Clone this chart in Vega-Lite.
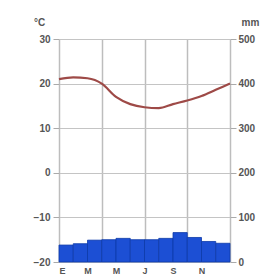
{
  "$schema": "https://vega.github.io/schema/vega-lite/v6.json",
  "width": 171,
  "height": 223,
  "autosize": "none",
  "padding": {"left": 59, "top": 39, "right": 31, "bottom": 15},
  "config": {
    "view": {"stroke": null},
    "axis": {"labelFont": "Liberation Sans", "labelFontSize": 10, "labelFontWeight": "bold", "labelColor": "#555", "titleFont": "Liberation Sans", "titleFontSize": 10, "titleFontWeight": "bold", "titleColor": "#555", "tickColor": "#aaa", "gridColor": "#c4c4c4", "domain": false}
  },
  "datasets": {
    "precip": [
      {"mes": "E", "inicio": 0, "fin": 1, "mm": 38},
      {"mes": "F", "inicio": 1, "fin": 2, "mm": 41},
      {"mes": "M", "inicio": 2, "fin": 3, "mm": 49},
      {"mes": "A", "inicio": 3, "fin": 4, "mm": 50},
      {"mes": "M", "inicio": 4, "fin": 5, "mm": 53},
      {"mes": "J", "inicio": 5, "fin": 6, "mm": 50},
      {"mes": "J", "inicio": 6, "fin": 7, "mm": 50},
      {"mes": "A", "inicio": 7, "fin": 8, "mm": 53},
      {"mes": "S", "inicio": 8, "fin": 9, "mm": 66},
      {"mes": "O", "inicio": 9, "fin": 10, "mm": 55},
      {"mes": "N", "inicio": 10, "fin": 11, "mm": 46},
      {"mes": "D", "inicio": 11, "fin": 12, "mm": 42}
    ],
    "temp": [
      {"pos": 0, "c": 21.0},
      {"pos": 1, "c": 21.4},
      {"pos": 2, "c": 21.2},
      {"pos": 3, "c": 20.0},
      {"pos": 4, "c": 17.0},
      {"pos": 5, "c": 15.4},
      {"pos": 6, "c": 14.7},
      {"pos": 7, "c": 14.5},
      {"pos": 8, "c": 15.4},
      {"pos": 9, "c": 16.2},
      {"pos": 10, "c": 17.2},
      {"pos": 11, "c": 18.6},
      {"pos": 12, "c": 20.0}
    ]
  },
  "layer": [
    {
      "data": {"name": "precip"},
      "mark": {"type": "bar", "color": "#1c4fd4", "stroke": "#0d3aa8", "strokeWidth": 0.8},
      "encoding": {
        "x": {"field": "inicio", "type": "quantitative", "scale": {"domain": [0, 12], "nice": false, "zero": false},
              "axis": {"orient": "bottom", "values": [0, 3, 6, 9, 12], "grid": true, "gridWidth": 1.5, "gridColor": "#bdbdbd", "labels": false, "ticks": false, "title": null}},
        "x2": {"field": "fin"},
        "y": {"field": "mm", "type": "quantitative", "scale": {"domain": [0, 500], "nice": false},
              "axis": {"orient": "right", "values": [0, 100, 200, 300, 400, 500], "grid": false, "tickSize": 6, "labelPadding": 2, "title": "mm", "titleAngle": 0, "titleX": 20, "titleY": -17, "titleAlign": "center", "titleBaseline": "middle"}},
        "y2": {"datum": 0}
      }
    },
    {
      "data": {"name": "temp"},
      "mark": {"type": "line", "color": "#9e4a47", "strokeWidth": 2.2, "interpolate": "monotone"},
      "encoding": {
        "x": {"field": "pos", "type": "quantitative",
              "axis": {"orient": "bottom", "values": [0, 2, 4, 6, 8, 10], "grid": false, "ticks": false, "labelPadding": 4, "labelFontSize": 9, "title": null,
                       "labelExpr": "['E','F','M','A','M','J','J','A','S','O','N','D'][datum.value]"}},
        "y": {"field": "c", "type": "quantitative", "scale": {"domain": [-20, 30], "nice": false, "zero": false},
              "axis": {"orient": "left", "values": [-20, -10, 0, 10, 20, 30], "grid": true, "tickSize": 6, "labelPadding": 3, "title": "°C", "titleAngle": 0, "titleX": -20, "titleY": -17, "titleAlign": "center", "titleBaseline": "middle"}}
      }
    }
  ],
  "resolve": {"scale": {"y": "independent"}, "axis": {"x": "independent", "y": "independent"}}
}
